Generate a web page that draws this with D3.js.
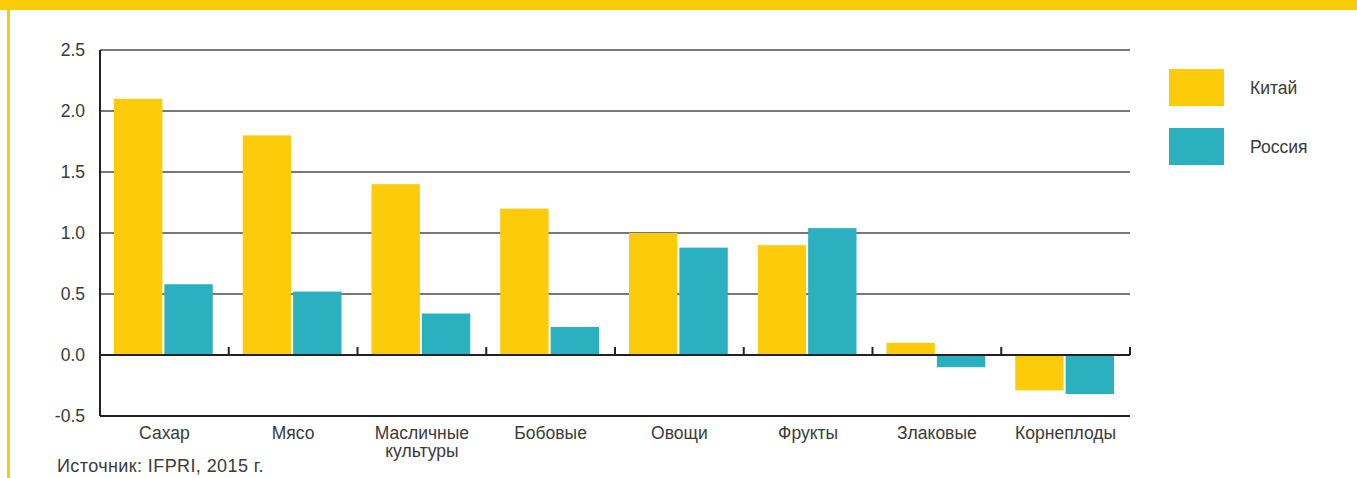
<!DOCTYPE html>
<html lang="ru">
<head>
<meta charset="UTF-8">
<title>Китай и Россия</title>
<script src="https://d3js.org/d3.v7.min.js"></script>
<style>
  body { margin: 0; background: #fff; }
  svg text { font-family: "Liberation Sans", Arial, sans-serif; fill: #3a3a3a; }
</style>
</head>
<body>
<div id="chart"></div>
<script>
  // данные
  const categories = ["Сахар", "Мясо", "Масличные\nкультуры", "Бобовые", "Овощи", "Фрукты", "Злаковые", "Корнеплоды"];
  const seriesNames = ["Китай", "Россия"];
  const china  = [2.1, 1.8, 1.4, 1.2, 1.0, 0.9, 0.1, -0.29];
  const russia = [0.58, 0.52, 0.34, 0.23, 0.88, 1.04, -0.1, -0.32];
  const yTicks = [-0.5, 0, 0.5, 1.0, 1.5, 2.0, 2.5];
  const colors = ["#fccb0a", "#2ab0be"];

  const width = 1357, height = 478;
  const m = {left: 100, right: 227, top: 50, bottom: 62};
  const fs = 17.5;

  const svg = d3.select("#chart").append("svg")
    .attr("width", width).attr("height", height);

  // рамка
  svg.append("rect").attr("x", 0).attr("y", 0).attr("width", width).attr("height", 10).attr("fill", colors[0]);
  svg.append("rect").attr("x", 7).attr("y", 0).attr("width", 3).attr("height", height).attr("fill", colors[0]);

  const x = d3.scaleBand().domain(d3.range(categories.length))
    .range([m.left, width - m.right]);
  const xs = d3.scaleBand().domain([0, 1]).range([15, x.bandwidth() - 15]).paddingInner(0.04);
  const y = d3.scaleLinear().domain([-0.5, 2.5]).range([height - m.bottom, m.top]);

  // сетка
  svg.append("g").selectAll("line").data(yTicks.filter(d => d > 0)).join("line")
    .attr("x1", m.left).attr("x2", width - m.right)
    .attr("y1", d => y(d)).attr("y2", d => y(d))
    .attr("stroke", "#4a4a4a").attr("stroke-width", 1.3);

  // подписи оси Y
  svg.append("g").selectAll("text").data(yTicks).join("text")
    .attr("x", 85).attr("y", d => y(d)).attr("dy", "0.35em")
    .attr("text-anchor", "end").attr("font-size", fs)
    .text(d => d.toFixed(1));

  // столбцы
  const data = [china, russia];
  const groups = svg.append("g").selectAll("g").data(data).join("g")
    .attr("fill", (d, i) => colors[i]);
  groups.each(function(vals, s) {
    d3.select(this).selectAll("rect").data(vals).join("rect")
      .attr("x", (d, i) => x(i) + xs(s) - 1)
      .attr("width", xs.bandwidth())
      .attr("y", d => y(Math.max(0, d)))
      .attr("height", d => Math.abs(y(d) - y(0)));
  });

  // оси
  const axis = svg.append("g").attr("stroke", "#222").attr("stroke-width", 2).attr("fill", "none");
  axis.append("line").attr("x1", m.left).attr("x2", m.left).attr("y1", y(2.5)).attr("y2", y(-0.5));
  axis.append("line").attr("x1", m.left).attr("x2", width - m.right).attr("y1", y(-0.5)).attr("y2", y(-0.5));
  axis.append("line").attr("x1", m.left).attr("x2", width - m.right).attr("y1", y(0)).attr("y2", y(0));
  axis.selectAll(".tk").data(d3.range(1, categories.length + 1)).join("line")
    .attr("x1", i => m.left + i * x.step()).attr("x2", i => m.left + i * x.step())
    .attr("y1", y(0)).attr("y2", y(0) - 8);

  // подписи категорий
  svg.append("g").selectAll("text").data(categories).join("text")
    .attr("x", (d, i) => x(i) + x.bandwidth() / 2)
    .attr("y", 439)
    .attr("text-anchor", "middle").attr("font-size", fs)
    .each(function(d) {
      d.split("\n").forEach((line, k) => {
        d3.select(this).append("tspan")
          .attr("x", d3.select(this).attr("x"))
          .attr("dy", k ? 18 : 0).text(line);
      });
    });

  // легенда
  const leg = svg.append("g").selectAll("g").data(seriesNames).join("g")
    .attr("transform", (d, i) => `translate(1169,${69 + i * 59})`);
  leg.append("rect").attr("width", 55).attr("height", 37).attr("fill", (d, i) => colors[i]);
  leg.append("text").attr("x", 81).attr("y", 19).attr("dy", "0.35em").attr("font-size", fs).text(d => d);

  // источник
  svg.append("text").attr("x", 57).attr("y", 472).attr("font-size", 18).attr("letter-spacing", 0.4).text("Источник: IFPRI, 2015 г.");
</script>
</body>
</html>
